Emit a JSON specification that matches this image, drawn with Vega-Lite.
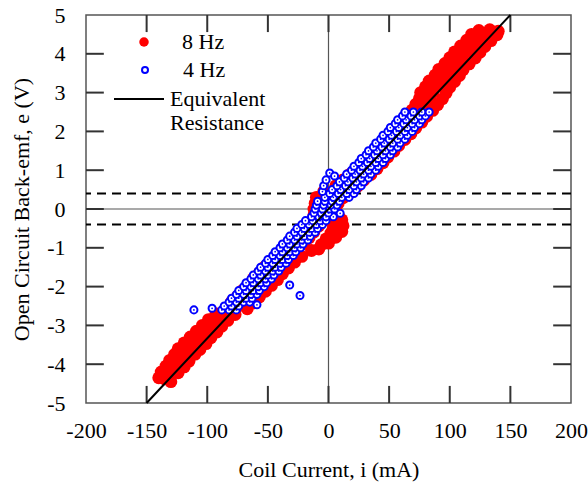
{
  "$schema": "https://vega.github.io/schema/vega-lite/v6.json",
  "width": 485,
  "height": 388,
  "autosize": {"type": "none"},
  "padding": {"left": 86, "top": 15, "right": 17, "bottom": 89},
  "config": {
    "view": {"stroke": "#555", "strokeWidth": 1.5},
    "font": "Liberation Serif",
    "axis": {"domain": false, "grid": false}
  },
  "datasets": {
    "red": [
      {"x":-140,"y":-4.35},{"x":-135,"y":-4.38},{"x":-130,"y":-4.45},
      {"x":-138,"y":-4.2},{"x":-131,"y":-4.2},{"x":-124,"y":-4.22},
      {"x":-134,"y":-4.05},{"x":-127,"y":-4.03},{"x":-119,"y":-4.07},
      {"x":-131,"y":-3.9},{"x":-123,"y":-3.88},{"x":-115,"y":-3.92},
      {"x":-127,"y":-3.75},{"x":-119,"y":-3.76},{"x":-110,"y":-3.74},
      {"x":-124,"y":-3.6},{"x":-115,"y":-3.58},{"x":-106,"y":-3.62},
      {"x":-119,"y":-3.45},{"x":-110,"y":-3.44},{"x":-101,"y":-3.47},
      {"x":-114,"y":-3.3},{"x":-105,"y":-3.3},{"x":-97,"y":-3.32},
      {"x":-109,"y":-3.15},{"x":-100,"y":-3.13},{"x":-92,"y":-3.17},
      {"x":-104,"y":-3.0},{"x":-96,"y":-2.98},{"x":-88,"y":-3.02},
      {"x":-99,"y":-2.85},{"x":-91,"y":-2.84},{"x":-83,"y":-2.87},
      {"x":-93,"y":-2.7},{"x":-85,"y":-2.69},{"x":-77,"y":-2.72},
      {"x":-84,"y":-2.55},{"x":-76,"y":-2.55},{"x":-67,"y":-2.57},
      {"x":-80,"y":-2.4},{"x":-71,"y":-2.39},{"x":-62,"y":-2.42},
      {"x":-75,"y":-2.25},{"x":-66,"y":-2.24},{"x":-57,"y":-2.27},
      {"x":-71,"y":-2.1},{"x":-61,"y":-2.1},{"x":-52,"y":-2.12},
      {"x":-66,"y":-1.95},{"x":-56,"y":-1.94},{"x":-47,"y":-1.97},
      {"x":-62,"y":-1.8},{"x":-52,"y":-1.79},{"x":-42,"y":-1.82},
      {"x":-57,"y":-1.65},{"x":-47,"y":-1.64},{"x":-38,"y":-1.67},
      {"x":-53,"y":-1.5},{"x":-42,"y":-1.5},{"x":-33,"y":-1.52},
      {"x":-48,"y":-1.35},{"x":-38,"y":-1.34},{"x":-28,"y":-1.37},
      {"x":-43,"y":-1.2},{"x":-33,"y":-1.19},{"x":-22,"y":-1.22},
      {"x":-38,"y":-1.05},{"x":-27,"y":-1.04},{"x":-14,"y":-1.07},{"x":-8,"y":-1.03},
      {"x":-33,"y":-0.9},{"x":-20,"y":-0.89},{"x":-6,"y":-0.92},{"x":0,"y":-0.88},
      {"x":-28,"y":-0.75},{"x":-16,"y":-0.74},{"x":-2,"y":-0.77},{"x":6,"y":-0.73},
      {"x":-22,"y":-0.6},{"x":-12,"y":-0.59},{"x":2,"y":-0.62},{"x":11,"y":-0.58},
      {"x":-18,"y":-0.45},{"x":-8,"y":-0.44},{"x":4,"y":-0.47},{"x":12,"y":-0.43},
      {"x":-13,"y":-0.3},{"x":-4,"y":-0.29},{"x":6,"y":-0.32},{"x":11,"y":-0.28},
      {"x":-12,"y":-0.15},{"x":-2,"y":-0.14},{"x":8,"y":-0.16},
      {"x":-12,"y":0.0},{"x":-3,"y":0.01},{"x":6,"y":-0.01},
      {"x":-11,"y":0.15},{"x":-1,"y":0.16},{"x":8,"y":0.14},
      {"x":-10,"y":0.3},{"x":2,"y":0.31},{"x":12,"y":0.29},
      {"x":-4,"y":0.45},{"x":8,"y":0.46},{"x":18,"y":0.44},
      {"x":6,"y":0.6},{"x":15,"y":0.61},{"x":24,"y":0.59},
      {"x":12,"y":0.75},{"x":20,"y":0.76},{"x":29,"y":0.74},
      {"x":18,"y":0.9},{"x":26,"y":0.91},{"x":35,"y":0.89},
      {"x":24,"y":1.05},{"x":32,"y":1.06},{"x":40,"y":1.04},
      {"x":29,"y":1.2},{"x":37,"y":1.21},{"x":45,"y":1.19},
      {"x":34,"y":1.35},{"x":42,"y":1.36},{"x":49,"y":1.34},
      {"x":39,"y":1.5},{"x":47,"y":1.51},{"x":54,"y":1.49},
      {"x":43,"y":1.65},{"x":51,"y":1.66},{"x":58,"y":1.64},
      {"x":48,"y":1.8},{"x":56,"y":1.81},{"x":63,"y":1.79},
      {"x":52,"y":1.95},{"x":60,"y":1.96},{"x":68,"y":1.94},
      {"x":57,"y":2.1},{"x":65,"y":2.11},{"x":72,"y":2.09},
      {"x":61,"y":2.25},{"x":69,"y":2.26},{"x":77,"y":2.24},
      {"x":66,"y":2.4},{"x":73,"y":2.41},{"x":81,"y":2.39},
      {"x":69,"y":2.55},{"x":78,"y":2.56},{"x":86,"y":2.54},
      {"x":72,"y":2.7},{"x":81,"y":2.71},{"x":90,"y":2.69},
      {"x":75,"y":2.85},{"x":84,"y":2.86},{"x":94,"y":2.84},
      {"x":76,"y":3.0},{"x":86,"y":3.01},{"x":97,"y":2.99},
      {"x":80,"y":3.15},{"x":90,"y":3.16},{"x":100,"y":3.14},
      {"x":83,"y":3.3},{"x":93,"y":3.31},{"x":104,"y":3.29},
      {"x":88,"y":3.45},{"x":98,"y":3.46},{"x":108,"y":3.44},
      {"x":91,"y":3.6},{"x":101,"y":3.61},{"x":111,"y":3.59},
      {"x":96,"y":3.75},{"x":106,"y":3.76},{"x":116,"y":3.74},
      {"x":100,"y":3.9},{"x":110,"y":3.91},{"x":121,"y":3.89},
      {"x":104,"y":4.05},{"x":115,"y":4.06},{"x":125,"y":4.04},
      {"x":109,"y":4.2},{"x":119,"y":4.21},{"x":129,"y":4.19},
      {"x":114,"y":4.35},{"x":124,"y":4.36},{"x":134,"y":4.34},
      {"x":118,"y":4.5},{"x":129,"y":4.51},{"x":139,"y":4.49},
      {"x":124,"y":4.6},{"x":133,"y":4.62},{"x":140,"y":4.58}
    ],
    "blue": [
      {"x":-111,"y":-2.6},{"x":-96,"y":-2.56},{"x":-59,"y":-2.47},{"x":-32,"y":-1.96},{"x":-23.5,"y":-2.23},{"x":9.6,"y":-0.11},
      {"x":-88,"y":-2.6},{"x":-82,"y":-2.6},{"x":-76,"y":-2.6},
      {"x":-86,"y":-2.5},{"x":-80,"y":-2.5},{"x":-74,"y":-2.5},
      {"x":-82,"y":-2.4},{"x":-76,"y":-2.4},{"x":-70,"y":-2.4},{"x":-65,"y":-2.4},
      {"x":-80,"y":-2.3},{"x":-74,"y":-2.3},{"x":-68,"y":-2.3},{"x":-63,"y":-2.3},
      {"x":-76,"y":-2.2},{"x":-70,"y":-2.2},{"x":-64,"y":-2.2},{"x":-59,"y":-2.2},
      {"x":-74,"y":-2.1},{"x":-68,"y":-2.1},{"x":-62,"y":-2.1},{"x":-57,"y":-2.1},
      {"x":-70,"y":-2.0},{"x":-64,"y":-2.0},{"x":-58,"y":-2.0},{"x":-53,"y":-2.0},
      {"x":-68,"y":-1.9},{"x":-62,"y":-1.9},{"x":-56,"y":-1.9},{"x":-51,"y":-1.9},
      {"x":-64,"y":-1.8},{"x":-58,"y":-1.8},{"x":-52,"y":-1.8},{"x":-47,"y":-1.8},
      {"x":-62,"y":-1.7},{"x":-56,"y":-1.7},{"x":-50,"y":-1.7},{"x":-45,"y":-1.7},
      {"x":-58,"y":-1.6},{"x":-52,"y":-1.6},{"x":-46,"y":-1.6},{"x":-41,"y":-1.6},
      {"x":-56,"y":-1.5},{"x":-50,"y":-1.5},{"x":-44,"y":-1.5},{"x":-39,"y":-1.5},
      {"x":-52,"y":-1.4},{"x":-46,"y":-1.4},{"x":-40,"y":-1.4},{"x":-35,"y":-1.4},
      {"x":-50,"y":-1.3},{"x":-44,"y":-1.3},{"x":-38,"y":-1.3},{"x":-33,"y":-1.3},
      {"x":-46,"y":-1.2},{"x":-40,"y":-1.2},{"x":-34,"y":-1.2},{"x":-29,"y":-1.2},
      {"x":-44,"y":-1.1},{"x":-38,"y":-1.1},{"x":-32,"y":-1.1},{"x":-27,"y":-1.1},
      {"x":-40,"y":-1.0},{"x":-34,"y":-1.0},{"x":-28,"y":-1.0},{"x":-23,"y":-1.0},
      {"x":-38,"y":-0.9},{"x":-32,"y":-0.9},{"x":-26,"y":-0.9},{"x":-21,"y":-0.9},
      {"x":-34,"y":-0.8},{"x":-28,"y":-0.8},{"x":-22,"y":-0.8},{"x":-17,"y":-0.8},
      {"x":-32,"y":-0.7},{"x":-26,"y":-0.7},{"x":-20,"y":-0.7},{"x":-15,"y":-0.7},
      {"x":-28,"y":-0.6},{"x":-22,"y":-0.6},{"x":-16,"y":-0.6},{"x":-11,"y":-0.6},
      {"x":-26,"y":-0.5},{"x":-20,"y":-0.5},{"x":-14,"y":-0.5},{"x":-9,"y":-0.5},
      {"x":-22,"y":-0.4},{"x":-16,"y":-0.4},{"x":-10,"y":-0.4},{"x":-5,"y":-0.4},
      {"x":-19,"y":-0.3},{"x":-13,"y":-0.3},{"x":-7,"y":-0.3},{"x":-2,"y":-0.3},
      {"x":-14,"y":-0.2},{"x":-8,"y":-0.2},{"x":-2,"y":-0.2},{"x":4,"y":-0.2},
      {"x":-12,"y":-0.1},{"x":-6,"y":-0.1},{"x":0,"y":-0.1},
      {"x":-11,"y":0.0},{"x":-5,"y":0.0},{"x":1,"y":0.0},{"x":5,"y":0.0},
      {"x":-10,"y":0.1},{"x":-4,"y":0.1},{"x":2,"y":0.1},{"x":7,"y":0.1},
      {"x":-9,"y":0.2},{"x":-3,"y":0.2},{"x":3,"y":0.2},{"x":9,"y":0.2},
      {"x":-3,"y":0.3},{"x":4,"y":0.3},{"x":11,"y":0.3},{"x":17,"y":0.3},
      {"x":1,"y":0.4},{"x":8,"y":0.4},{"x":15,"y":0.4},{"x":21,"y":0.4},
      {"x":3,"y":0.5},{"x":10,"y":0.5},{"x":17,"y":0.5},{"x":23,"y":0.5},
      {"x":7,"y":0.6},{"x":14,"y":0.6},{"x":21,"y":0.6},{"x":27,"y":0.6},
      {"x":9,"y":0.7},{"x":16,"y":0.7},{"x":23,"y":0.7},{"x":29,"y":0.7},
      {"x":13,"y":0.8},{"x":20,"y":0.8},{"x":27,"y":0.8},{"x":33,"y":0.8},
      {"x":15,"y":0.9},{"x":22,"y":0.9},{"x":29,"y":0.9},{"x":35,"y":0.9},
      {"x":-5,"y":0.45},{"x":-4,"y":0.6},{"x":-2,"y":0.75},{"x":1,"y":0.93},{"x":5,"y":0.85},
      {"x":19,"y":1.0},{"x":26,"y":1.0},{"x":33,"y":1.0},{"x":39,"y":1.0},
      {"x":21,"y":1.1},{"x":28,"y":1.1},{"x":35,"y":1.1},{"x":41,"y":1.1},
      {"x":25,"y":1.2},{"x":32,"y":1.2},{"x":39,"y":1.2},{"x":45,"y":1.2},
      {"x":27,"y":1.3},{"x":34,"y":1.3},{"x":41,"y":1.3},{"x":47,"y":1.3},
      {"x":31,"y":1.4},{"x":38,"y":1.4},{"x":45,"y":1.4},{"x":51,"y":1.4},
      {"x":33,"y":1.5},{"x":40,"y":1.5},{"x":47,"y":1.5},{"x":53,"y":1.5},
      {"x":37,"y":1.6},{"x":44,"y":1.6},{"x":51,"y":1.6},{"x":57,"y":1.6},
      {"x":39,"y":1.7},{"x":46,"y":1.7},{"x":53,"y":1.7},{"x":59,"y":1.7},
      {"x":43,"y":1.8},{"x":50,"y":1.8},{"x":57,"y":1.8},{"x":63,"y":1.8},
      {"x":45,"y":1.9},{"x":52,"y":1.9},{"x":59,"y":1.9},{"x":65,"y":1.9},
      {"x":49,"y":2.0},{"x":56,"y":2.0},{"x":63,"y":2.0},{"x":69,"y":2.0},
      {"x":51,"y":2.1},{"x":58,"y":2.1},{"x":65,"y":2.1},{"x":71,"y":2.1},
      {"x":55,"y":2.2},{"x":62,"y":2.2},{"x":69,"y":2.2},{"x":75,"y":2.2},
      {"x":57,"y":2.3},{"x":64,"y":2.3},{"x":71,"y":2.3},{"x":77,"y":2.3},
      {"x":61,"y":2.4},{"x":68,"y":2.4},{"x":75,"y":2.4},{"x":80,"y":2.4},
      {"x":63,"y":2.5},{"x":70,"y":2.5},{"x":77,"y":2.5},{"x":83,"y":2.5}
    ],
    "eqline": [{"x":-150,"y":-5},{"x":150,"y":5}],
    "zero": [{"v":0}],
    "dashed": [{"v":0.4},{"v":-0.4}],
    "xt": [{"v":-150},{"v":-100},{"v":-50},{"v":0},{"v":50},{"v":100},{"v":150}],
    "yt": [{"v":-4},{"v":-3},{"v":-2},{"v":-1},{"v":0},{"v":1},{"v":2},{"v":3},{"v":4}]
  },
  "resolve": {"scale": {"x": "shared", "y": "shared"}, "axis": {"x": "independent", "y": "independent"}},
  "layer": [
    {
      "data": {"name": "zero"},
      "mark": {"type": "rule", "color": "#555", "strokeWidth": 1.2},
      "encoding": {
        "x": {"field": "v", "type": "quantitative", "scale": {"domain": [-200, 200], "nice": false},
          "axis": {"orient": "bottom", "values": [-200,-150,-100,-50,0,50,100,150,200], "ticks": false, "labelPadding": 17, "labelFlush": false,
            "labelExpr": "'' + datum.value", "labelFont": "Liberation Serif", "labelFontSize": 22, "labelColor": "#000",
            "title": "Coil Current, i (mA)", "titlePadding": 18, "titleFont": "Liberation Serif", "titleFontSize": 22, "titleFontWeight": "normal", "titleColor": "#000"}}
      }
    },
    {
      "data": {"name": "zero"},
      "mark": {"type": "rule", "color": "#555", "strokeWidth": 1.2},
      "encoding": {
        "y": {"field": "v", "type": "quantitative", "scale": {"domain": [-5, 5], "nice": false},
          "axis": {"orient": "left", "values": [-5,-4,-3,-2,-1,0,1,2,3,4,5], "ticks": false, "labelPadding": 21, "labelFlush": false,
            "labelExpr": "'' + datum.value", "labelFont": "Liberation Serif", "labelFontSize": 22, "labelColor": "#000",
            "title": "Open Circuit Back-emf, e (V)", "titlePadding": 13, "titleFont": "Liberation Serif", "titleFontSize": 22, "titleFontWeight": "normal", "titleColor": "#000"}}
      }
    },
    {
      "data": {"name": "xt"},
      "mark": {"type": "rule", "color": "#333333", "strokeWidth": 2},
      "encoding": {
        "x": {"field": "v", "type": "quantitative", "scale": {"domain": [-200, 200], "nice": false}, "axis": null},
        "y": {"datum": -5, "type": "quantitative", "scale": {"domain": [-5, 5], "nice": false}, "axis": null},
        "y2": {"datum": -4.56}
      }
    },
    {
      "data": {"name": "xt"},
      "mark": {"type": "rule", "color": "#333333", "strokeWidth": 2},
      "encoding": {
        "x": {"field": "v", "type": "quantitative", "scale": {"domain": [-200, 200], "nice": false}, "axis": null},
        "y": {"datum": 5, "type": "quantitative", "scale": {"domain": [-5, 5], "nice": false}, "axis": null},
        "y2": {"datum": 4.56}
      }
    },
    {
      "data": {"name": "yt"},
      "mark": {"type": "rule", "color": "#333333", "strokeWidth": 2},
      "encoding": {
        "y": {"field": "v", "type": "quantitative", "scale": {"domain": [-5, 5], "nice": false}, "axis": null},
        "x": {"datum": -200, "type": "quantitative", "scale": {"domain": [-200, 200], "nice": false}, "axis": null},
        "x2": {"datum": -185.3}
      }
    },
    {
      "data": {"name": "yt"},
      "mark": {"type": "rule", "color": "#333333", "strokeWidth": 2},
      "encoding": {
        "y": {"field": "v", "type": "quantitative", "scale": {"domain": [-5, 5], "nice": false}, "axis": null},
        "x": {"datum": 200, "type": "quantitative", "scale": {"domain": [-200, 200], "nice": false}, "axis": null},
        "x2": {"datum": 185.3}
      }
    },
    {
      "data": {"name": "dashed"},
      "mark": {"type": "rule", "color": "#000", "strokeWidth": 2, "strokeDash": [9, 6]},
      "encoding": {
        "y": {"field": "v", "type": "quantitative", "scale": {"domain": [-5, 5], "nice": false}, "axis": null}
      }
    },
    {
      "data": {"name": "red"},
      "mark": {"type": "point", "filled": true, "shape": "circle", "size": 165, "opacity": 1, "strokeWidth": 0},
      "encoding": {
        "x": {"field": "x", "type": "quantitative", "scale": {"domain": [-200, 200], "nice": false}, "axis": null},
        "y": {"field": "y", "type": "quantitative", "scale": {"domain": [-5, 5], "nice": false}, "axis": null},
        "fill": {"datum": "8 Hz", "type": "nominal", "scale": {"domain": ["8 Hz"], "range": ["#ff0000"]},
          "legend": {"title": null, "orient": "none", "legendX": 47, "legendY": 16, "symbolType": "circle", "symbolSize": 90,
            "symbolStrokeWidth": 0, "symbolOpacity": 1, "labelFont": "Liberation Serif", "labelFontSize": 22, "labelColor": "#000", "labelOffset": 27}}
      }
    },
    {
      "data": {"name": "blue"},
      "mark": {"type": "point", "filled": false, "shape": "circle", "size": 50, "strokeWidth": 2, "fill": "#ffffff", "fillOpacity": 1, "opacity": 1},
      "encoding": {
        "x": {"field": "x", "type": "quantitative", "scale": {"domain": [-200, 200], "nice": false}, "axis": null},
        "y": {"field": "y", "type": "quantitative", "scale": {"domain": [-5, 5], "nice": false}, "axis": null},
        "stroke": {"datum": "4 Hz", "type": "nominal", "scale": {"domain": ["4 Hz"], "range": ["#0000ff"]},
          "legend": {"title": null, "orient": "none", "legendX": 48, "legendY": 44, "symbolType": "circle", "symbolSize": 36,
            "symbolStrokeWidth": 2, "symbolFillColor": "#ffffff", "symbolOpacity": 1, "labelFont": "Liberation Serif", "labelFontSize": 22, "labelColor": "#000", "labelOffset": 27}}
      }
    },
    {
      "data": {"name": "blue"},
      "mark": {"type": "point", "filled": true, "shape": "circle", "size": 3, "color": "#0000ff", "opacity": 1},
      "encoding": {
        "x": {"field": "x", "type": "quantitative", "scale": {"domain": [-200, 200], "nice": false}, "axis": null},
        "y": {"field": "y", "type": "quantitative", "scale": {"domain": [-5, 5], "nice": false}, "axis": null}
      }
    },
    {
      "data": {"name": "eqline"},
      "mark": {"type": "line", "strokeWidth": 2},
      "encoding": {
        "x": {"field": "x", "type": "quantitative", "scale": {"domain": [-200, 200], "nice": false}, "axis": null},
        "y": {"field": "y", "type": "quantitative", "scale": {"domain": [-5, 5], "nice": false}, "axis": null},
        "color": {"datum": "Equivalent Resistance", "type": "nominal", "scale": {"domain": ["Equivalent Resistance"], "range": ["#000000"]},
          "legend": {"title": null, "orient": "none", "legendX": 27, "legendY": 58, "symbolType": "stroke", "symbolSize": 2500,
            "symbolStrokeWidth": 2, "labelFont": "Liberation Serif", "labelFontSize": 22, "labelColor": "#000", "labelOffset": 5,
            "labelExpr": "['Equivalent', 'Resistance']"}}
      }
    }
  ]
}
